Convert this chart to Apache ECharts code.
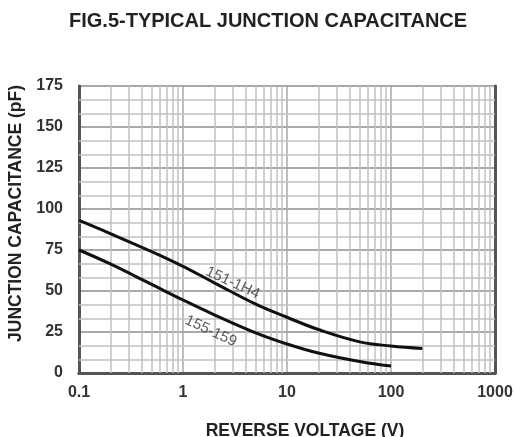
<!DOCTYPE html>
<html><head><meta charset="utf-8">
<script src="https://cdn.jsdelivr.net/npm/echarts@6/dist/echarts.min.js"></script>
<style>html,body{margin:0;padding:0;background:#fff}#c{width:515px;height:437px}</style>
</head><body><div id="c"></div>
<script>
// Data
const voltageUpper = [0.1, 0.2, 0.5, 1, 2, 5, 10, 20, 50, 100, 200];
const capUpper     = [93, 85, 74, 65, 55, 42, 34, 26.5, 19, 16.5, 15];
const voltageLower = [0.1, 0.2, 0.5, 1, 2, 5, 10, 20, 50, 100];
const capLower     = [75, 66.5, 54, 44.5, 35.5, 24.5, 17.7, 12.2, 7, 4.2];
const xTickLabels = ['0.1', '1', '10', '100', '1000'];
const yTickLabels = ['0', '25', '50', '75', '100', '125', '150', '175'];
const minorGridX = [0.2,0.3,0.4,0.5,0.6,0.7,0.8,0.9, 2,3,4,5,6,7,8,9, 20,30,40,50,60,70,80,90, 200,300,400,500,600,700,800,900];
const minorGridY = [8.33,16.67, 33.33,41.67, 58.33,66.67, 83.33,91.67, 108.33,116.67, 133.33,141.67, 158.33,166.67];
const curveNames = ['151-1H4', '155-159'];
const curveLabelX = [3.0, 1.85];
const curveLabelY = [55, 25.5];

const FONT = "'Liberation Sans', Arial, sans-serif";
const chart = echarts.init(document.getElementById('c'), null, {renderer: 'canvas'});

const upper = voltageUpper.map((v, i) => [v, capUpper[i]]);
const lower = voltageLower.map((v, i) => [v, capLower[i]]);
const labelPts = curveNames.map((n, i) => [curveLabelX[i], curveLabelY[i], n]);

const xBase = {
  type: 'log', logBase: 10, min: 0.1, max: 1000,
  axisTick: {show: false}
};
const yBase = {
  type: 'value', min: 0, max: 175, interval: 25,
  axisTick: {show: false}
};

chart.setOption({
  animation: false,
  backgroundColor: '#fff',
  title: {
    text: 'FIG.5-TYPICAL JUNCTION CAPACITANCE',
    left: 64, top: 6,
    textStyle: {fontFamily: FONT, fontWeight: 'bold', fontSize: 20, color: '#222'}
  },
  grid: {left: 79, right: 20, top: 86, bottom: 64, containLabel: false, outerBoundsMode: 'none'},
  xAxis: [
    Object.assign({}, xBase, {
      position: 'bottom',
      name: 'REVERSE VOLTAGE (V)', nameLocation: 'middle', nameGap: 49,
      nameTextStyle: {fontFamily: FONT, fontWeight: 'bold', fontSize: 17.5, color: '#222', padding: [0, 0, 0, 36]},
      axisLine: {show: true, lineStyle: {color: '#555', width: 3}},
      axisLabel: {
        fontFamily: FONT, fontWeight: 'bold', fontSize: 16, color: '#333', margin: 12,
        formatter: v => { const i = Math.round(Math.log10(v)) + 1; return xTickLabels[i] !== undefined ? xTickLabels[i] : ''; }
      },
      splitLine: {show: true, lineStyle: {color: '#a8a8a8', width: 1.5}}
    }),
    Object.assign({}, xBase, {
      position: 'top',
      axisLine: {show: true, lineStyle: {color: '#555', width: 3}},
      axisLabel: {show: false},
      splitLine: {show: false}
    })
  ],
  yAxis: [
    Object.assign({}, yBase, {
      position: 'left',
      name: 'JUNCTION CAPACITANCE (pF)', nameLocation: 'middle', nameGap: 46,
      nameTextStyle: {fontFamily: FONT, fontWeight: 'bold', fontSize: 17.5, color: '#222', padding: [0, 0, 0, 32]},
      axisLine: {show: true, lineStyle: {color: '#555', width: 3}},
      axisLabel: {
        fontFamily: FONT, fontWeight: 'bold', fontSize: 16, color: '#333', margin: 16,
        formatter: v => yTickLabels[Math.round(v / 25)]
      },
      splitLine: {show: true, lineStyle: {color: '#8c8c8c', width: 1.5}}
    }),
    Object.assign({}, yBase, {
      position: 'right',
      axisLine: {show: true, lineStyle: {color: '#555', width: 3}},
      axisLabel: {show: false},
      splitLine: {show: false}
    })
  ],
  series: [
    {
      type: 'line', data: [], z: 1, silent: true,
      markLine: {
        silent: true, symbol: ['none', 'none'], animation: false,
        label: {show: false},
        lineStyle: {color: '#c0c0c0', width: 1.5, type: 'solid'},
        data: minorGridX.map(v => ({xAxis: v})).concat(minorGridY.map(v => ({yAxis: v})))
      }
    },
    {
      type: 'line', name: curveNames[0], data: upper, smooth: 0.4, z: 10,
      showSymbol: false, symbol: 'none',
      lineStyle: {color: '#111', width: 3}
    },
    {
      type: 'line', name: curveNames[1], data: lower, smooth: 0.4, z: 10,
      showSymbol: false, symbol: 'none',
      lineStyle: {color: '#111', width: 3}
    },
    {
      type: 'scatter', data: labelPts, symbolSize: 0, z: 11, silent: true,
      label: {
        show: true, position: 'inside', rotate: -25,
        formatter: p => p.data[2],
        fontFamily: FONT, fontSize: 15, color: '#333'
      }
    }
  ]
});
</script>
</body></html>
